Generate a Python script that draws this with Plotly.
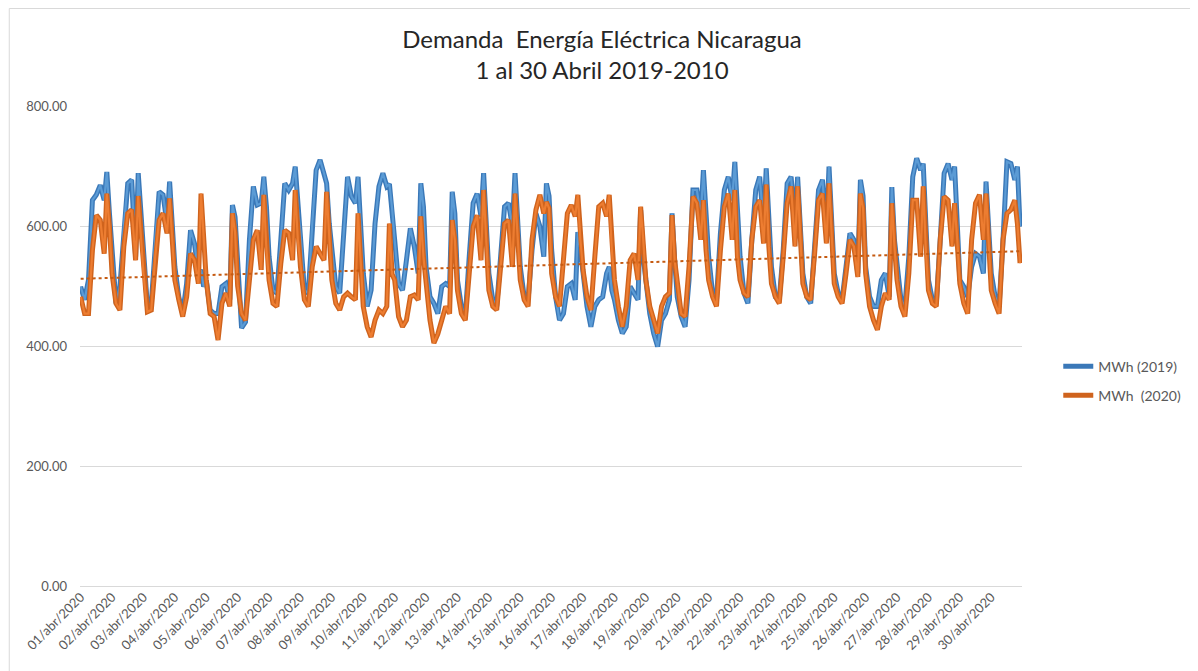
import plotly.graph_objects as go

# ---- data ----
days = list(range(1, 31))
tick_labels = [f"{d:02d}/abr/2020" for d in days]
hours_in_day = [0, 3, 6, 9, 12, 15, 18, 20, 22]

mwh_2019 = [
    [499, 477, 510, 643, 652, 668, 643, 690, 621],
    [566, 471, 499, 599, 671, 677, 549, 688, 621],
    [560, 466, 471, 577, 657, 652, 604, 674, 604],
    [532, 482, 454, 504, 593, 571, 521, 527, 499],
    [510, 460, 454, 454, 499, 504, 477, 635, 615],
    [540, 430, 440, 577, 666, 635, 638, 682, 632],
    [549, 493, 488, 577, 671, 660, 671, 699, 632],
    [588, 493, 488, 604, 693, 710, 688, 671, 604],
    [566, 499, 488, 577, 682, 649, 638, 682, 604],
    [521, 466, 493, 604, 666, 688, 666, 670, 630],
    [577, 504, 493, 543, 596, 566, 521, 671, 632],
    [532, 482, 471, 454, 499, 504, 499, 657, 621],
    [510, 466, 449, 549, 638, 654, 616, 688, 604],
    [521, 477, 466, 549, 632, 638, 599, 688, 621],
    [532, 482, 477, 560, 621, 599, 549, 671, 650],
    [560, 482, 443, 454, 499, 504, 477, 590, 560],
    [521, 466, 432, 466, 477, 482, 521, 532, 493],
    [477, 443, 421, 432, 499, 488, 477, 627, 549],
    [510, 454, 421, 399, 443, 454, 477, 621, 543],
    [482, 449, 432, 510, 660, 660, 616, 693, 620],
    [549, 488, 477, 588, 660, 682, 643, 707, 621],
    [549, 488, 471, 577, 660, 682, 604, 696, 616],
    [532, 482, 477, 560, 671, 682, 604, 682, 604],
    [521, 482, 471, 566, 660, 677, 588, 699, 604],
    [521, 488, 477, 532, 588, 577, 521, 677, 650],
    [532, 482, 466, 466, 510, 521, 482, 665, 577],
    [532, 477, 466, 549, 682, 713, 693, 704, 604],
    [510, 477, 471, 577, 688, 704, 677, 699, 604],
    [510, 499, 482, 532, 554, 549, 521, 674, 604],
    [521, 482, 466, 577, 707, 704, 677, 699, 599],
]

mwh_2020 = [
    [482, 454, 454, 560, 618, 610, 554, 654, 599],
    [521, 471, 460, 566, 621, 627, 543, 650, 588],
    [521, 457, 460, 549, 610, 621, 588, 646, 577],
    [510, 477, 449, 482, 554, 543, 504, 654, 577],
    [510, 454, 449, 410, 471, 488, 466, 621, 590],
    [500, 454, 443, 510, 577, 593, 527, 652, 560],
    [510, 471, 466, 538, 593, 588, 543, 660, 577],
    [532, 477, 466, 532, 566, 554, 543, 657, 577],
    [510, 471, 460, 482, 488, 482, 477, 621, 549],
    [466, 432, 415, 443, 460, 454, 466, 604, 520],
    [510, 449, 432, 443, 482, 485, 477, 616, 549],
    [510, 443, 405, 420, 443, 466, 454, 610, 577],
    [493, 454, 443, 521, 599, 618, 543, 660, 577],
    [493, 466, 460, 532, 604, 610, 532, 654, 588],
    [510, 477, 466, 577, 627, 652, 621, 640, 630],
    [521, 482, 466, 543, 621, 635, 616, 652, 577],
    [527, 482, 460, 549, 632, 638, 616, 652, 560],
    [510, 466, 432, 466, 543, 554, 510, 632, 577],
    [510, 466, 443, 421, 466, 482, 488, 618, 543],
    [504, 454, 449, 532, 649, 638, 577, 643, 560],
    [510, 482, 466, 560, 632, 654, 577, 660, 549],
    [510, 488, 482, 577, 632, 643, 571, 669, 566],
    [504, 482, 471, 549, 638, 666, 566, 666, 577],
    [504, 482, 477, 554, 643, 654, 571, 671, 577],
    [504, 482, 471, 521, 577, 566, 515, 654, 630],
    [521, 466, 443, 427, 466, 488, 477, 638, 566],
    [510, 466, 449, 521, 643, 643, 549, 666, 560],
    [493, 471, 466, 577, 649, 643, 566, 638, 577],
    [504, 471, 454, 577, 638, 652, 577, 654, 560],
    [493, 471, 454, 577, 621, 627, 643, 604, 538],
]

# linear trend of the 2020 series (start / end values)
trend_2020 = [512, 558]

y_ticks = [0, 200, 400, 600, 800]

# ---- build ----
x_hours = [(d - 1) * 24 + h for d in days for h in hours_in_day]
y19 = [v for day in mwh_2019 for v in day]
y20 = [v for day in mwh_2020 for v in day]
n_hours = len(days) * 24
trend_x = [0, n_hours - 1]

FONT = "Lato, 'Open Sans', sans-serif"
TXT = "#595959"

fig = go.Figure()
fig.add_trace(go.Scatter(x=x_hours, y=y19, mode="lines", name="MWh (2019)",
                         line=dict(color="#3A78B8", width=5), legendgroup="a"))
fig.add_trace(go.Scatter(x=x_hours, y=y19, mode="lines", showlegend=False,
                         line=dict(color="#5B9BD5", width=2.2), legendgroup="a",
                         hoverinfo="skip"))
fig.add_trace(go.Scatter(x=x_hours, y=y20, mode="lines", name="MWh\u00a0 (2020)",
                         line=dict(color="#CF631D", width=5), legendgroup="b"))
fig.add_trace(go.Scatter(x=x_hours, y=y20, mode="lines", showlegend=False,
                         line=dict(color="#ED7D31", width=2.2), legendgroup="b",
                         hoverinfo="skip"))
fig.add_trace(go.Scatter(x=trend_x, y=trend_2020, mode="lines", showlegend=False,
                         line=dict(color="#C55A11", width=2, dash="dot")))

W, H = 1190, 663
L, T, PW, PH = 72, 98, 952, 480

fig.update_layout(
    width=W, height=H,
    margin=dict(l=L, r=W - L - PW, t=T, b=H - T - PH),
    paper_bgcolor="white", plot_bgcolor="white",
    font=dict(family=FONT, color=TXT, size=13),
    title=dict(text="Demanda  Energía Eléctrica Nicaragua<br>1 al 30 Abril 2019-2010",
               x=(602 - 8) / W, xanchor="center", y=1 - 40 / H, yanchor="middle",
               font=dict(family=FONT, size=24, color="#262626")),
    legend=dict(x=1.0385, xanchor="left", y=0.427, yanchor="middle",
                font=dict(family=FONT, size=14, color=TXT),
                bgcolor="rgba(0,0,0,0)", tracegroupgap=8),
    showlegend=True,
)
fig.update_xaxes(range=[-0.5, n_hours - 0.5],
                 tickmode="array",
                 tickvals=[(d - 1) * 24 for d in days],
                 ticktext=tick_labels,
                 tickangle=-45, showgrid=False, zeroline=False, showline=False,
                 ticks="", tickfont=dict(family=FONT, size=13, color=TXT))
fig.update_yaxes(range=[0, 800], tickmode="array", tickvals=y_ticks,
                 tickformat=".2f", showgrid=True, gridcolor="#D9D9D9", gridwidth=1,
                 zeroline=True, zerolinecolor="#D9D9D9", zerolinewidth=1,
                 showline=False, ticks="", ticklabelstandoff=12,
                 tickfont=dict(family=FONT, size=13, color=TXT))

# chart frame (left and top edges visible in the reference)
fig.add_shape(type="rect", xref="paper", yref="paper",
              x0=(0.5 - L) / PW, x1=(W + 20 - L) / PW,
              y0=(T + PH - H - 20) / PH, y1=(T + PH - 0.5) / PH,
              line=dict(color="#D9D9D9", width=1), fillcolor="rgba(0,0,0,0)",
              layer="below")

fig.write_html("out.html")
